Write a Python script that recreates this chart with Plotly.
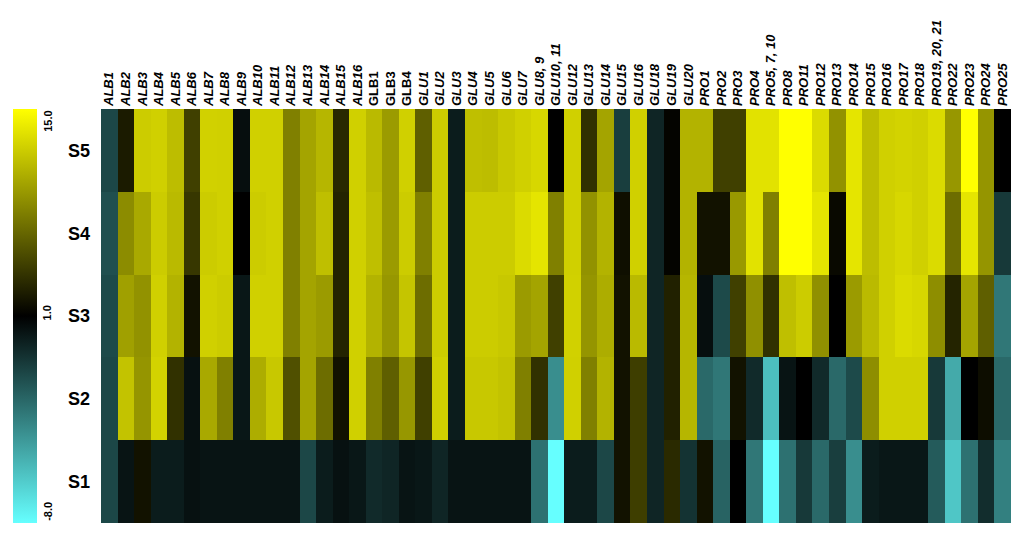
import plotly.graph_objects as go

# column labels (peptide groups) and whether the label is italic
labels = ["ALB1", "ALB2", "ALB3", "ALB4", "ALB5", "ALB6", "ALB7", "ALB8", "ALB9", "ALB10",
          "ALB11", "ALB12", "ALB13", "ALB14", "ALB15", "ALB16",
          "GLB1", "GLB3", "GLB4",
          "GLU1", "GLU2", "GLU3", "GLU4", "GLU5", "GLU6", "GLU7", "GLU8, 9", "GLU10, 11",
          "GLU12", "GLU13", "GLU14", "GLU15", "GLU16", "GLU18", "GLU19", "GLU20",
          "PRO1", "PRO2", "PRO3", "PRO4", "PRO5, 7, 10", "PRO8", "PRO11", "PRO12", "PRO13",
          "PRO14", "PRO15", "PRO16", "PRO17", "PRO18", "PRO19, 20, 21", "PRO22", "PRO23",
          "PRO24", "PRO25"]
italic = [not lab.startswith("GLB") for lab in labels]

stages = ["S1", "S2", "S3", "S4", "S5"]

# values per stage
s5 = [-1.5, 2.5, 12.2, 12.4, 11.4, 4.5, 12.5, 12.4, 0.5, 12.4,
      12.4, 8.0, 10.0, 11.0, 3.2, 12.4,
      11.2, 9.5, 12.4,
      6.2, 12.2, 0.0, 11.5, 11.4, 12.0, 12.4, 12.8, 1.0,
      12.4, 3.7, 10.0, -1.2, 12.4, -0.3, 1.2, 10.8,
      10.8, 4.5, 4.5, 13.4, 13.4, 15.0, 15.0, 13.0, 9.0,
      13.6, 11.4, 12.4, 12.6, 12.4, 13.0, 9.3, 15.0,
      9.2, 1.0]
s4 = [-1.8, 8.7, 10.3, 12.2, 11.2, 4.0, 12.2, 12.4, 1.0, 12.2,
      12.4, 8.0, 10.0, 11.5, 3.0, 12.4,
      11.5, 9.5, 12.2,
      8.0, 12.2, 0.0, 12.2, 12.2, 12.2, 13.0, 13.6, 8.0,
      12.4, 9.0, 10.8, 1.8, 12.4, -0.3, 1.2, 10.8,
      2.0, 2.0, 9.4, 13.4, 8.0, 15.0, 15.0, 13.6, 1.5,
      13.6, 11.4, 12.4, 12.8, 12.4, 13.0, 7.0, 13.6,
      9.2, -1.0]
s3 = [-1.6, 9.8, 9.0, 12.4, 10.8, 2.0, 12.4, 12.2, 0.2, 12.4,
      12.4, 8.0, 10.0, 9.5, 3.0, 12.4,
      10.8, 9.3, 11.8,
      7.0, 12.2, 0.0, 12.2, 12.2, 12.0, 9.5, 10.0, 4.5,
      12.5, 9.2, 10.5, 2.0, 11.2, -0.3, 2.8, 11.0,
      0.5, -1.6, 4.5, 8.9, 3.7, 11.5, 12.2, 8.9, 1.0,
      9.5, 11.2, 12.4, 13.0, 12.8, 8.8, 3.0, 10.0,
      6.2, -3.2]
s2 = [-1.5, 11.7, 9.2, 12.6, 3.7, 0.4, 10.3, 8.0, 0.2, 10.5,
      12.0, 5.4, 10.0, 7.0, 2.0, 12.4,
      8.0, 6.2, 9.3,
      4.5, 12.4, 0.0, 12.0, 12.0, 11.7, 8.0, 3.7, -4.0,
      12.4, 8.0, 10.8, 2.0, 4.4, -0.3, 2.8, 11.0,
      -2.7, -3.2, 2.0, -0.5, -5.7, 0.3, 1.0, -0.5, -2.7,
      -1.6, 8.8, 12.4, 12.4, 12.4, -1.0, -5.0, 1.0,
      1.7, -2.7]
s1 = [-1.5, 0.3, 2.0, 0.0, 0.0, 0.4, 0.3, 0.3, 0.3, 0.3,
      0.3, 0.3, -1.5, 0.0, 0.4, 0.2,
      -0.5, -0.3, 0.3,
      0.2, -0.3, 0.3, 0.3, 0.3, 0.3, 0.3, -3.0, -8.0,
      0.0, 0.0, -1.5, 2.0, 4.4, -0.3, 3.3, -0.8,
      2.0, -2.5, 1.0, -3.2, -8.0, -3.0, -1.0, -2.7, -1.2,
      -4.0, 0.0, 0.2, 0.2, 0.2, -2.2, -6.0, -3.0,
      -0.6, -3.5]

zmin, zmid, zmax = -8.0, 1.0, 15.0


# the colour bar puts 1.0 (black) in the middle, so map each half separately
def to_scale(v):
    if v <= zmid:
        return 0.5 * (v - zmin) / (zmid - zmin)
    return 0.5 + 0.5 * (v - zmid) / (zmax - zmid)


raw = [s1, s2, s3, s4, s5]
z = [[to_scale(v) for v in row] for row in raw]

ticktext = [f"<b><i>{lab}</i></b>" if it else f"<b>{lab}</b>" for lab, it in zip(labels, italic)]

fig = go.Figure(go.Heatmap(
    z=z, x=labels, y=stages, customdata=raw,
    zmin=0, zmax=1,
    colorscale=[[0, "#66ffff"], [0.5, "#000000"], [1, "#ffff00"]],
    hovertemplate="%{x} %{y}: %{customdata}<extra></extra>",
    colorbar=dict(xref="container", x=5 / 1016, xanchor="left", y=0.5, yanchor="middle",
                  len=1, thickness=24, outlinewidth=0, xpad=0, ypad=0,
                  showticklabels=False, ticks=""),
))

# colour bar labels, rotated like the original
cb_font = dict(family="Liberation Sans, Arial", size=11, color="black", weight="bold")
for txt, yy, anc in [("15.0", 1.0, "top"), ("1.0", 0.507, "middle"), ("-8.0", 0.0, "bottom")]:
    fig.add_annotation(x=-0.059, y=yy, xref="paper", yref="paper", text=txt,
                       textangle=-90, showarrow=False, yanchor=anc, xanchor="center",
                       font=cb_font)

fig.update_xaxes(side="top", tickangle=-90, tickvals=labels, ticktext=ticktext,
                 ticks="", ticklabelstandoff=2, showgrid=False, zeroline=False,
                 automargin=False,
                 tickfont=dict(family="Liberation Sans, Arial", size=13, color="black"))
fig.update_yaxes(ticks="", ticklabelstandoff=10, showgrid=False, zeroline=False,
                 automargin=False,
                 tickfont=dict(family="Liberation Sans, Arial", size=18, color="black",
                               weight="bold"))

# the page body adds 8px around the figure, so the figure is 8px smaller each way
fig.update_layout(width=1016, height=531,
                  margin=dict(l=93, r=13, t=101, b=16, autoexpand=False),
                  paper_bgcolor="white", plot_bgcolor="white")

fig.write_html("out.html")
